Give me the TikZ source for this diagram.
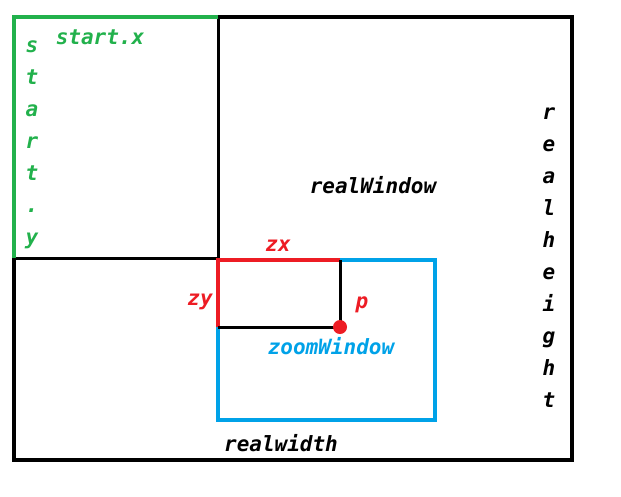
\documentclass[tikz,border=0pt]{standalone}
\usepackage{fontspec}
\setmonofont{DejaVu Sans Mono}
\usetikzlibrary{positioning}
\definecolor{paintgreen}{RGB}{34,177,76}
\definecolor{paintred}{RGB}{237,28,36}
\definecolor{paintblue}{RGB}{0,162,232}
\tikzstyle{txt} = [font=\ttfamily\bfseries\itshape\fontsize{21}{32}\selectfont, inner sep=0pt, align=center]
\tikzstyle{frame} = [line width=4.5pt, draw=black]
\tikzstyle{thinline} = [line width=3pt, draw=black]
\tikzstyle{greenline} = [line width=4.5pt, draw=paintgreen]
\tikzstyle{redline} = [line width=4.5pt, draw=paintred]
\tikzstyle{blueline} = [line width=4.5pt, draw=paintblue]
\begin{document}
\begin{tikzpicture}[x=1pt, y=-1pt]
\useasboundingbox (0,0) rectangle (621,496);

% windows
\draw [frame] (14,17) rectangle (572,460);
\draw [thinline] (218,17) -- (218,258) -- (14,258);
\draw [greenline] (218,17) -- (14,17) -- (14,258);
\draw [blueline] (218,260) rectangle (435,420);
\draw [redline] (218,327) -- (218,260) -- (340,260);
\draw [thinline] (340,260) -- (340,327) -- (218,327);
\fill [paintred] (340,327) circle [radius=7pt];

% labels
\node (startx) [txt, text=paintgreen] at (100,37) {start.x};
\node (starty) [txt, text=paintgreen] at (32,145) {s\\t\\a\\r\\t\\.\\y};
\node (realwin) [txt] at (373,185) {realWindow};
\node (realh) [txt] at (549,258) {r\\e\\a\\l\\h\\e\\i\\g\\h\\t};
\node (zx) [txt, text=paintred] at (278,246) {zx};
\node (zy) [txt, text=paintred] at (200,302) {zy};
\node (p) [txt, text=paintred] at (362,305) {p};
\node (zoomwin) [txt, text=paintblue] at (331,346) {zoomWindow};
\node (realw) [txt] at (281,443) {realwidth};

\end{tikzpicture}
\end{document}
